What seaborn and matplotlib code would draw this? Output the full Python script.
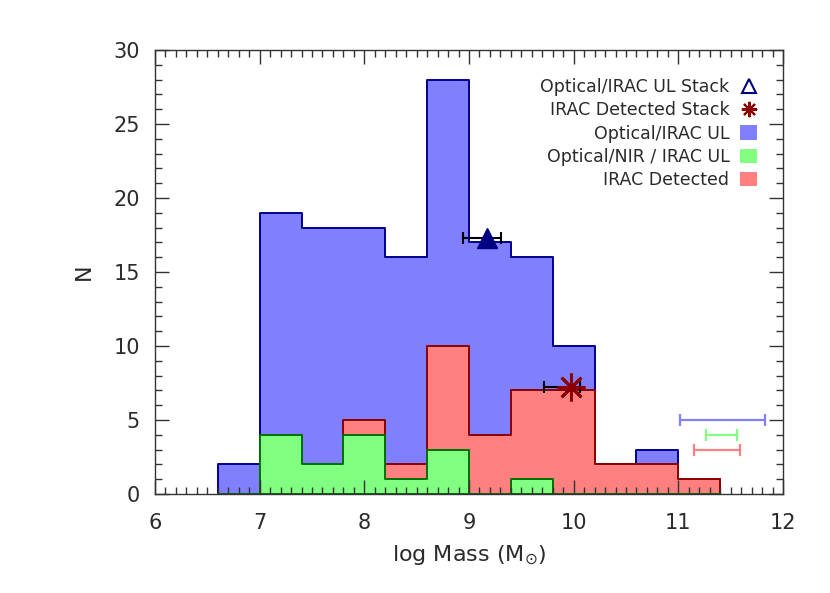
import numpy as np
import matplotlib
matplotlib.use("Agg")
import matplotlib.pyplot as plt
import seaborn as sns
from matplotlib.lines import Line2D
from matplotlib.patches import Patch
from matplotlib.ticker import MultipleLocator

# ---- data ----
bin_edges = [6.6, 7.0, 7.4, 7.8, 8.2, 8.6, 9.0, 9.4, 9.8, 10.2, 10.6, 11.0, 11.4]
bin_centers = [6.8, 7.2, 7.6, 8.0, 8.4, 8.8, 9.2, 9.6, 10.0, 10.4, 10.8, 11.2]
n_optical_irac_ul = [2, 19, 18, 18, 16, 28, 17, 16, 10, 2, 3, 1]
n_irac_detected   = [0, 0, 0, 5, 2, 10, 4, 7, 7, 2, 2, 1]
n_optical_nir_ul  = [0, 4, 2, 4, 1, 3, 0, 1, 0, 0, 0, 0]

stack_ul_x, stack_ul_y = 9.17, 17.3
stack_ul_xerr = [[0.23], [0.14]]
stack_det_x, stack_det_y = 9.97, 7.2
stack_det_xerr = [[0.25], [0.09]]

# typical uncertainties (centre, half-width left, half-width right, y)
unc_ul = (11.42, 0.40, 0.41, 5.0)
unc_nir = (11.41, 0.15, 0.15, 4.0)
unc_det = (11.37, 0.22, 0.22, 3.0)

labels = ["Optical/IRAC UL Stack", "IRAC Detected Stack", "Optical/IRAC UL",
          "Optical/NIR / IRAC UL", "IRAC Detected"]

# ---- style ----
sns.set_theme(style="white")
plt.rcParams["font.family"] = ["DejaVu Sans"]
plt.rcParams["text.color"] = "#2a2a2a"
plt.rcParams["axes.labelcolor"] = "#2a2a2a"
plt.rcParams["xtick.color"] = "#333333"
plt.rcParams["ytick.color"] = "#333333"
plt.rcParams["xtick.labelcolor"] = "#2a2a2a"
plt.rcParams["ytick.labelcolor"] = "#2a2a2a"
plt.rcParams["mathtext.fontset"] = "dejavusans"

blue_fill, blue_edge = "#8080ff", "#00008b"
red_fill, red_edge = "#ff8080", "#8b0000"
green_fill, green_edge = "#80ff80", "#007000"

fig = plt.figure(figsize=(8.3, 5.93), dpi=100)
ax = fig.add_axes([155/830, 1-494/593, (783-155)/830, (494-50)/593])
ax.set_axisbelow(False)

for counts, fc, ec in [(n_optical_irac_ul, blue_fill, blue_edge),
                       (n_irac_detected, red_fill, red_edge),
                       (n_optical_nir_ul, green_fill, green_edge)]:
    sns.histplot(x=bin_centers, weights=counts, bins=bin_edges, element="step",
                 fill=True, color=fc, edgecolor=ec, linewidth=1.4, alpha=1.0,
                 ax=ax)

# stacks
ax.errorbar(stack_ul_x, stack_ul_y, xerr=stack_ul_xerr, fmt="none",
            ecolor="black", elinewidth=1.5, capsize=4, capthick=1.5, zorder=5)
ax.plot([stack_ul_x], [stack_ul_y], marker="^", color="#000080", ms=14,
        ls="none", zorder=6)
ax.errorbar(stack_det_x, stack_det_y, xerr=stack_det_xerr, fmt="none",
            ecolor="black", elinewidth=1.5, capsize=4, capthick=1.5, zorder=5)
ax.plot([stack_det_x], [stack_det_y], marker=(8, 2, 0), color="#8b0000",
        ms=20, mew=2, ls="none", zorder=6)

# typical uncertainties
for (cx, lo, hi, yy), col in [(unc_ul, blue_fill), (unc_nir, green_fill),
                              (unc_det, red_fill)]:
    ax.errorbar(cx, yy, xerr=[[lo], [hi]], fmt="none", ecolor=col,
                elinewidth=1.6, capsize=4, capthick=1.6, zorder=5)

ax.set_xlim(6, 12)
ax.set_ylim(0, 30)
ax.xaxis.set_major_locator(MultipleLocator(1))
ax.xaxis.set_minor_locator(MultipleLocator(0.1))
ax.yaxis.set_major_locator(MultipleLocator(5))
ax.yaxis.set_minor_locator(MultipleLocator(1))
ax.tick_params(which="both", direction="in", top=True, right=True,
               bottom=True, left=True, labelsize=15, width=1.0)
ax.tick_params(which="major", length=10)
ax.tick_params(axis="x", which="major", pad=14)
ax.tick_params(axis="y", which="major", pad=11)
ax.tick_params(which="minor", length=5)
for sp in ax.spines.values():
    sp.set_color("#333333")
    sp.set_linewidth(1.0)

ax.set_xlabel(r"log Mass (M$_{\odot}$)", fontsize=16, labelpad=7)
ax.set_ylabel("N", fontsize=16, labelpad=14)

fig.canvas.draw()
ylabs = ax.get_yticklabels()
ylabs[0].set_va("bottom")
ylabs[-1].set_va("top")

handles = [
    Line2D([], [], marker="^", color="#000080", mfc="none", mew=1.5, ms=10, ls="none"),
    Line2D([], [], marker=(8, 2, 0), color="#8b0000", mew=1.5, ms=11, ls="none"),
    Patch(facecolor=blue_fill, edgecolor="none"),
    Patch(facecolor=green_fill, edgecolor="none"),
    Patch(facecolor=red_fill, edgecolor="none"),
]
leg = ax.legend(handles, labels, loc="upper right", bbox_to_anchor=(0.97, 0.952),
                frameon=False, markerfirst=False, fontsize=12.5,
                handlelength=1.0, handleheight=0.9, handletextpad=0.6,
                labelspacing=0.3, borderaxespad=0.0)

fig.savefig("out.png", dpi=100)
